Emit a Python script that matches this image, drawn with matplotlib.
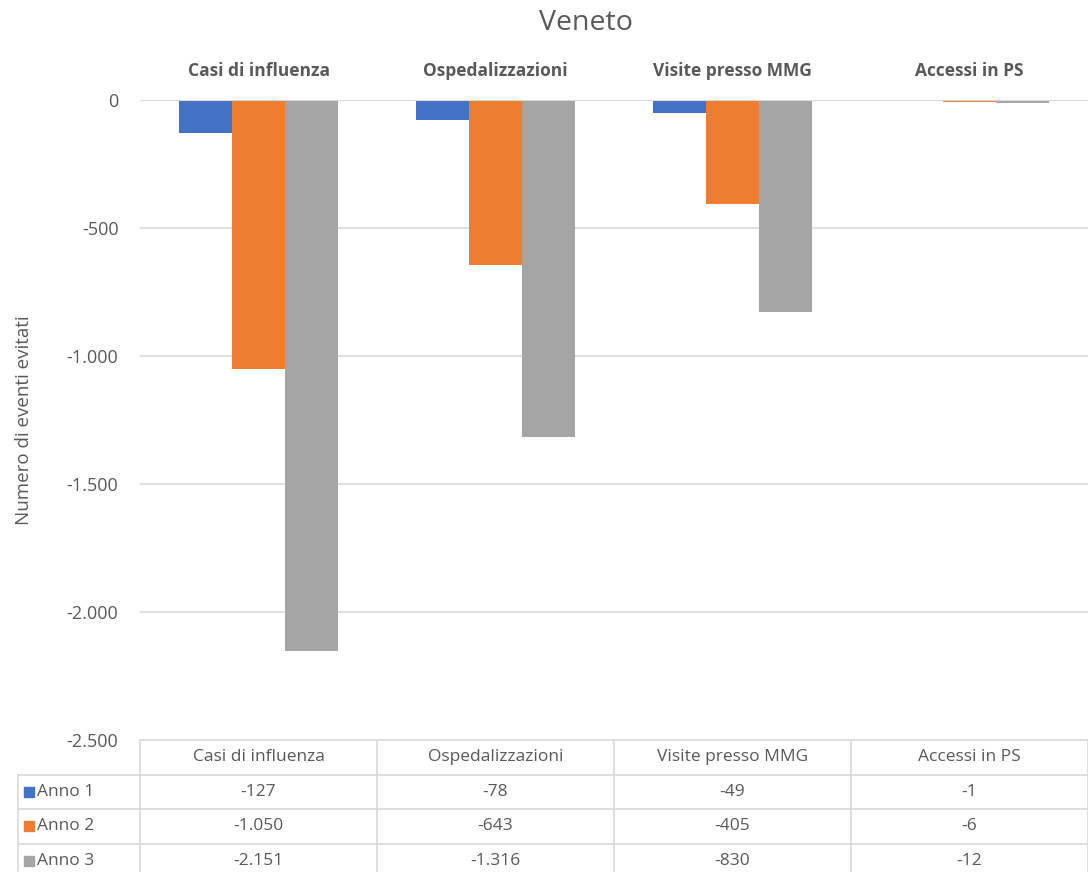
import matplotlib
matplotlib.use("Agg")
import matplotlib.pyplot as plt
from matplotlib.patches import Rectangle
from matplotlib.ticker import FuncFormatter, MultipleLocator
import numpy as np

categories = ["Casi di influenza", "Ospedalizzazioni", "Visite presso MMG", "Accessi in PS"]
series_names = ["Anno 1", "Anno 2", "Anno 3"]
anno1 = [-127, -78, -49, -1]
anno2 = [-1050, -643, -405, -6]
anno3 = [-2151, -1316, -830, -12]
series_values = [anno1, anno2, anno3]
colors = ["#4472C4", "#ED7D31", "#A5A5A5"]

TXT = "#595959"
GRID = "#D9D9D9"
plt.rcParams["font.family"] = ["Open Sans", "DejaVu Sans"]

W, H = 1088, 872
fig = plt.figure(figsize=(W / 100, H / 100), dpi=100)


def it_fmt(v):
    return f"{v:,.0f}".replace(",", ".")


# plot area (pixel layout converted to figure fractions)
left, right, top, bottom = 140, 1088, 100, 740
ax = fig.add_axes([left / W, 1 - bottom / H, (right - left) / W, (bottom - top) / H])

x = np.arange(len(categories))
width = 0.224
for i, (name, vals, c) in enumerate(zip(series_names, series_values, colors)):
    ax.bar(x + (i - 1) * width, vals, width, color=c, label=name, zorder=3)

ax.set_xlim(-0.5, len(categories) - 0.5)
ax.set_ylim(-2500, 0)
ax.yaxis.set_major_locator(MultipleLocator(500))
ax.yaxis.set_major_formatter(FuncFormatter(lambda v, p: it_fmt(v)))
ax.grid(axis="y", color=GRID, linewidth=1.2, zorder=0)
ax.set_xticks([])
ax.tick_params(axis="y", length=0, pad=15.5, labelsize=13, labelcolor=TXT)
for s in ax.spines.values():
    s.set_visible(False)
ax.axhline(0, color=GRID, linewidth=1.5, zorder=4)

# category labels above the bars
for xi, cat in zip(x, categories):
    ax.text(xi, 1.045, cat, transform=ax.get_xaxis_transform(), ha="center", va="center",
            fontsize=12.5, fontweight="bold", color=TXT)

ax.set_ylabel("Numero di eventi evitati", fontsize=13.5, color=TXT, labelpad=24)
fig.text(586 / W, 1 - 23 / H, "Veneto", ha="center", va="center", fontsize=20.5, color=TXT)

# data table below the plot area
tab = fig.add_axes([0, 0, 1, 1], zorder=-1)
tab.set_xlim(0, W)
tab.set_ylim(H, 0)
tab.axis("off")

col_edges = [left + k * (right - left) / len(categories) for k in range(len(categories) + 1)]
row_top = 740
row_h = 34.5
label_left = 18
n_rows = len(series_names) + 1
row_edges = [row_top + k * row_h for k in range(n_rows + 1)]

lw = 1.2
# horizontal lines
tab.plot([col_edges[0], col_edges[-1]], [row_edges[0]] * 2, color=GRID, lw=lw)
for r in row_edges[1:]:
    tab.plot([label_left, col_edges[-1]], [r, r], color=GRID, lw=lw)
# vertical lines
for k, cx in enumerate(col_edges):
    tab.plot([cx, cx], [row_edges[0], row_edges[-1]], color=GRID, lw=lw)
tab.plot([label_left, label_left], [row_edges[1], row_edges[-1]], color=GRID, lw=lw)

font_tab = dict(fontsize=12.5, color=TXT, family=["Open Sans", "DejaVu Sans"])
centers = [(col_edges[k] + col_edges[k + 1]) / 2 for k in range(len(categories))]
for cx, cat in zip(centers, categories):
    tab.text(cx, (row_edges[0] + row_edges[1]) / 2, cat, ha="center", va="center", **font_tab)

for i, (name, vals, c) in enumerate(zip(series_names, series_values, colors)):
    yc = (row_edges[i + 1] + row_edges[i + 2]) / 2
    tab.add_patch(Rectangle((24, yc - 5), 10, 10, color=c))
    tab.text(37, yc, name, ha="left", va="center", **font_tab)
    for cx, v in zip(centers, vals):
        tab.text(cx, yc, it_fmt(v), ha="center", va="center", **font_tab)

fig.savefig("out.png", dpi=100, facecolor="white")
